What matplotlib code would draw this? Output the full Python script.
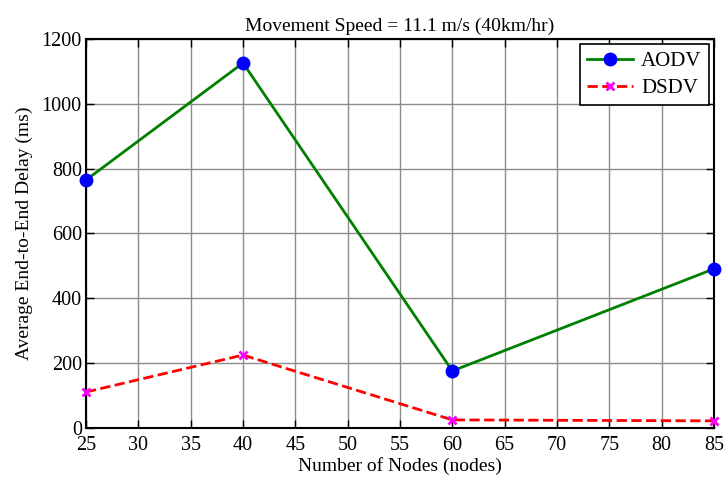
import matplotlib
matplotlib.use("Agg")
import matplotlib.pyplot as plt

nodes = [25, 40, 60, 85]
aodv = [765, 1126, 176, 491]
dsdv = [111, 225, 25, 22]
xticks = list(range(25, 90, 5))
yticks = list(range(0, 1400, 200))

plt.rcParams['font.family'] = ['Liberation Serif', 'DejaVu Serif']
fig = plt.figure(figsize=(7.26, 4.79), dpi=100)
ax = fig.add_axes([86/726, 1-428/479, (714-86)/726, (428-39)/479])
ax.plot(nodes, aodv, '-', color='#008000', lw=2, marker='o', ms=9,
        mfc='blue', mec='blue', label='AODV', clip_on=False, zorder=3)
ax.plot(nodes, dsdv, '--', color='red', lw=2, marker='x', ms=6,
        mfc='magenta', mec='magenta', mew=2, label='DSDV', clip_on=False, zorder=3)
ax.set_xlim(25, 85)
ax.set_ylim(0, 1200)
ax.set_xticks(xticks)
ax.set_yticks(yticks)
ax.grid(True, color='#8c8c8c', lw=1, ls='-')
ax.set_axisbelow(True)
ax.tick_params(direction='in', top=True, right=True, labelsize=14.5, length=6, width=1)
ax.tick_params(axis='x', pad=6)
ax.tick_params(axis='y', pad=3)
for s in ax.spines.values():
    s.set_linewidth(1.5)
ax.set_xlabel('Number of Nodes (nodes)', fontsize=14, labelpad=1)
ax.set_ylabel('Average End-to-End Delay (ms)', fontsize=14, labelpad=6)
ax.set_title('Movement Speed = 11.1 m/s (40km/hr)', fontsize=14, pad=6)
leg = ax.legend(loc='upper right', fontsize=15, frameon=True, fancybox=False,
                edgecolor='black', framealpha=1, borderaxespad=0.25, handlelength=2.2,
                handletextpad=0.4, borderpad=0.35, labelspacing=0.35)
leg.get_frame().set_linewidth(1.2)
fig.savefig('out.png', dpi=100)
